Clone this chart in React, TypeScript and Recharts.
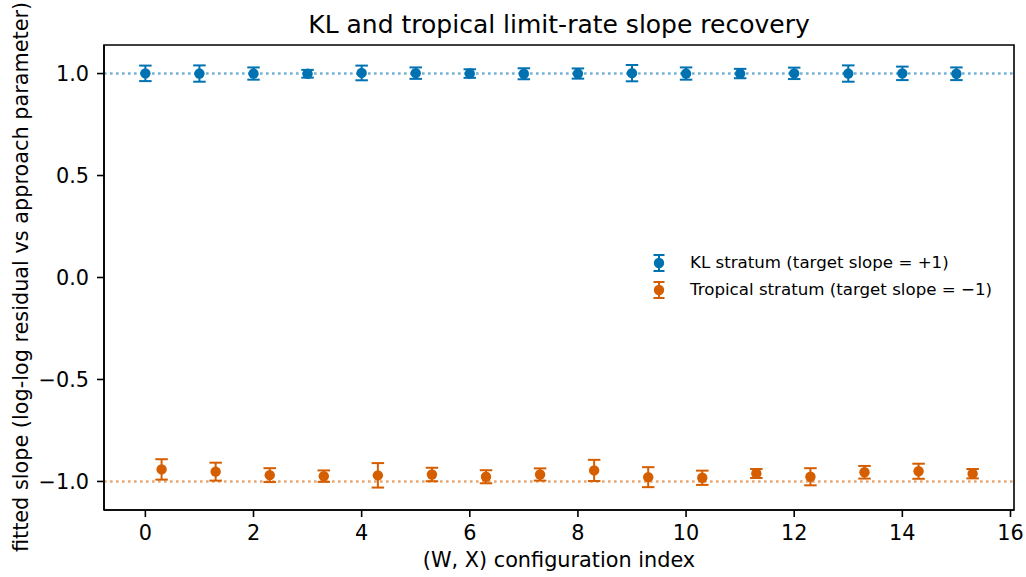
import { ScatterChart, Scatter, XAxis, YAxis, ErrorBar, ReferenceLine, ReferenceArea } from 'recharts';

const configIndex = [0, 1, 2, 3, 4, 5, 6, 7, 8, 9, 10, 11, 12, 13, 14, 15];
const tropicalOffset = 0.3;

const klSlope = [1.001, 1.0, 1.0, 0.999, 1.003, 1.002, 1.0, 0.999, 1.0, 1.002, 1.0, 1.0, 1.001, 1.0, 1.001, 0.999];
const klErr = [0.038, 0.04, 0.03, 0.019, 0.036, 0.028, 0.021, 0.027, 0.025, 0.04, 0.03, 0.023, 0.028, 0.04, 0.033, 0.031];

const tropSlope = [-0.941, -0.952, -0.969, -0.974, -0.97, -0.966, -0.977, -0.966, -0.946, -0.979, -0.982, -0.961, -0.977, -0.955, -0.95, -0.962];
const tropErr = [0.05, 0.044, 0.034, 0.028, 0.06, 0.033, 0.032, 0.03, 0.052, 0.049, 0.035, 0.022, 0.042, 0.031, 0.037, 0.023];

const xTicks = [0, 2, 4, 6, 8, 10, 12, 14, 16];
const yTicks = [-1, -0.5, 0, 0.5, 1];

const X_DOMAIN: [number, number] = [-0.765, 16.065];
const Y_DOMAIN: [number, number] = [-1.14, 1.14];

const BLUE = '#0072B2';
const ORANGE = '#D55E00';
const FONT = '"DejaVu Sans", sans-serif';

const klData = configIndex.map((x, i) => ({ x, y: klSlope[i], err: klErr[i] }));
const tropData = configIndex.map((x, i) => ({ x: x + tropicalOffset, y: tropSlope[i], err: tropErr[i] }));

const fmtY = (v: number) => (v < 0 ? '\u2212' + Math.abs(v).toFixed(1) : v.toFixed(1));

const dot = (color: string) => (props: any) => <circle cx={props.cx} cy={props.cy} r={5.2} fill={color} />;

const LegendMark = ({ color }: { color: string }) => (
  <svg width={14} height={18} style={{ display: 'block' }}>
    <line x1={7} y1={1} x2={7} y2={17} stroke={color} strokeWidth={2} />
    <line x1={1.5} y1={1} x2={12.5} y2={1} stroke={color} strokeWidth={2} />
    <line x1={1.5} y1={17} x2={12.5} y2={17} stroke={color} strokeWidth={2} />
    <circle cx={7} cy={9} r={5.2} fill={color} />
  </svg>
);

export default function App() {
  const tick = { fontSize: 20.8, fill: '#000', fontFamily: FONT };
  return (
    <div style={{ position: 'absolute', left: 0, top: 0, width: 1026, height: 577, background: '#fff', fontFamily: FONT }}>
      <ScatterChart width={1026} height={577} margin={{ top: 45, right: 12, bottom: 37, left: 44 }}>
        <XAxis
          type="number"
          dataKey="x"
          domain={X_DOMAIN}
          ticks={xTicks}
          allowDataOverflow
          stroke="#000"
          strokeWidth={1.6}
          tick={tick}
          tickSize={7}
          tickMargin={8}
          height={30}
        />
        <YAxis
          type="number"
          dataKey="y"
          domain={Y_DOMAIN}
          ticks={yTicks}
          allowDataOverflow
          tickFormatter={fmtY}
          stroke="#000"
          strokeWidth={1.6}
          tick={tick}
          tickSize={7}
          tickMargin={8}
          width={60}
        />
        <ReferenceArea
          x1={X_DOMAIN[0]}
          x2={X_DOMAIN[1]}
          y1={Y_DOMAIN[0]}
          y2={Y_DOMAIN[1]}
          fill="none"
          stroke="#000"
          strokeWidth={1.6}
          ifOverflow="visible"
        />
        <ReferenceLine y={1} stroke={BLUE} strokeOpacity={0.55} strokeWidth={2.6} strokeDasharray="2.6 3.4" />
        <ReferenceLine y={-1} stroke={ORANGE} strokeOpacity={0.55} strokeWidth={2.6} strokeDasharray="2.6 3.4" />
        <Scatter data={klData} fill={BLUE} shape={dot(BLUE)} isAnimationActive={false}>
          <ErrorBar dataKey="err" direction="y" width={6.25} stroke={BLUE} strokeWidth={2} />
        </Scatter>
        <Scatter data={tropData} fill={ORANGE} shape={dot(ORANGE)} isAnimationActive={false}>
          <ErrorBar dataKey="err" direction="y" width={6.25} stroke={ORANGE} strokeWidth={2} />
        </Scatter>
      </ScatterChart>

      <div style={{ position: 'absolute', left: 104, width: 910, top: 9.3, textAlign: 'center', fontSize: 25, lineHeight: '32px', whiteSpace: 'nowrap' }}>
        KL and tropical limit-rate slope recovery
      </div>
      <div style={{ position: 'absolute', left: 104, width: 910, top: 548, textAlign: 'center', fontSize: 20.8, lineHeight: '24px', whiteSpace: 'nowrap' }}>
        (W, X) configuration index
      </div>
      <div
        style={{
          position: 'absolute',
          left: 20.7,
          top: 277,
          transform: 'translate(-50%, -50%) rotate(-90deg)',
          whiteSpace: 'nowrap',
          fontSize: 20.8,
          lineHeight: '24px',
        }}
      >
        fitted slope (log-log residual vs approach parameter)
      </div>

      <div style={{ position: 'absolute', left: 652, top: 250, fontSize: 16.67, lineHeight: '26.7px', whiteSpace: 'nowrap' }}>
        {[
          { c: BLUE, t: 'KL stratum (target slope = +1)' },
          { c: ORANGE, t: 'Tropical stratum (target slope = \u22121)' },
        ].map((r) => (
          <div key={r.t} style={{ display: 'flex', alignItems: 'center' }}>
            <LegendMark color={r.c} />
            <span style={{ marginLeft: 24 }}>{r.t}</span>
          </div>
        ))}
      </div>
    </div>
  );
}
